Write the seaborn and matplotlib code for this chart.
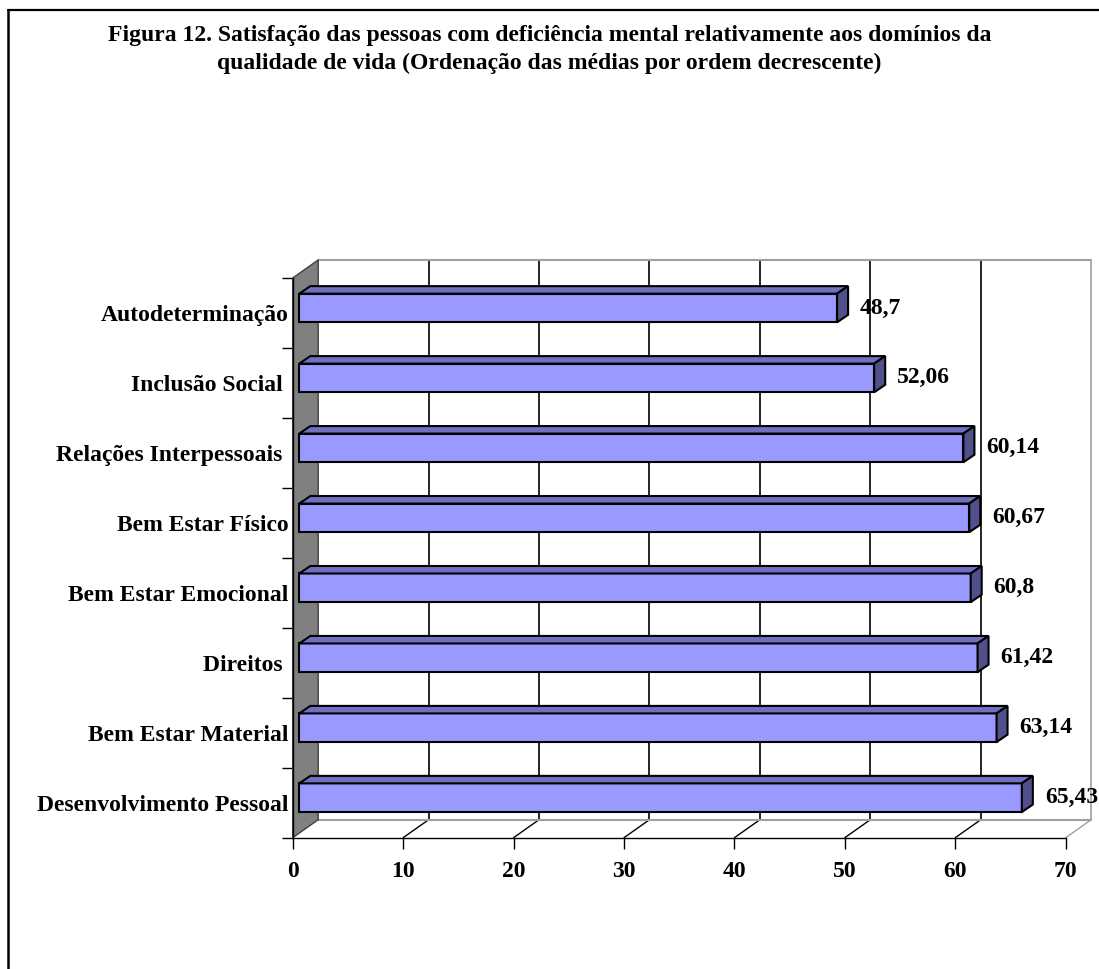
import matplotlib
matplotlib.use("Agg")
import matplotlib.pyplot as plt
import numpy as np
import pandas as pd
import seaborn as sns
from matplotlib.lines import Line2D
from matplotlib.patches import Polygon

# --- data (top to bottom, as in the chart) ---
domains = [
    "Autodeterminação",
    "Inclusão Social ",
    "Relações Interpessoais ",
    "Bem Estar Físico",
    "Bem Estar Emocional",
    "Direitos ",
    "Bem Estar Material",
    "Desenvolvimento Pessoal",
]
means = [48.7, 52.06, 60.14, 60.67, 60.8, 61.42, 63.14, 65.43]
x_ticks = [0, 10, 20, 30, 40, 50, 60, 70]

title_lines = [
    "Figura 12. Satisfação das pessoas com deficiência mental relativamente aos domínios da",
    "qualidade de vida (Ordenação das médias por ordem decrescente)",
]

df = pd.DataFrame({"domain": domains, "mean": means})

sns.set_style("white")
plt.rcParams["font.family"] = ["Liberation Serif", "DejaVu Serif"]
plt.rcParams["font.weight"] = "bold"
plt.rcParams["text.color"] = "black"
plt.rcParams["xtick.color"] = "black"
plt.rcParams["ytick.color"] = "black"
plt.rcParams["axes.labelcolor"] = "black"

W, H = 1099, 969
fig = plt.figure(figsize=(W / 100, H / 100), dpi=100)

# front plane of the 3D box, in pixels
left_px, right_px, top_px, bottom_px = 292.7, 1065.7, 278, 837.7
ax = fig.add_axes([left_px / W, (H - bottom_px) / H,
                   (right_px - left_px) / W, (bottom_px - top_px) / H])

fs = 17
bar_face = "#9999FF"
bar_top = "#7070C0"
bar_side = "#50508A"

sns.barplot(data=df, x="mean", y="domain", orient="h", color=bar_face,
            edgecolor="black", linewidth=1.5, width=0.41, saturation=1,
            ax=ax, zorder=3)

ax.set_xlim(x_ticks[0], x_ticks[-1])
ax.set_ylim(len(domains) - 0.5, -0.5)

# pixel -> data unit helpers
ux = (x_ticks[-1] - x_ticks[0]) / (right_px - left_px)
uy = len(domains) / (bottom_px - top_px)


def px(dx, dy):
    # dy is "up" in pixels; y axis is inverted so up is negative
    return dx * ux, -dy * uy


wdx, wdy = px(25.5, 18)   # depth of the walls
fdx, fdy = px(6.6, 5.0)   # bar front face offset
bdx, bdy = px(11, 7.5)    # bar depth

y_top, y_bot = -0.5, len(domains) - 0.5
x0, x1 = x_ticks[0], x_ticks[-1]
grey = "#A0A0A0"

# back wall
ax.add_patch(Polygon([(x0 + wdx, y_top + wdy), (x1 + wdx, y_top + wdy),
                      (x1 + wdx, y_bot + wdy), (x0 + wdx, y_bot + wdy)],
                     closed=True, facecolor="white", edgecolor="none",
                     clip_on=False, zorder=0.5))
# side wall
ax.add_patch(Polygon([(x0, y_top), (x0 + wdx, y_top + wdy),
                      (x0 + wdx, y_bot + wdy), (x0, y_bot)],
                     closed=True, facecolor="#808080", edgecolor="#404040",
                     linewidth=1, clip_on=False, zorder=0.7))

# gridlines on the back wall and floor
for t in x_ticks[1:]:
    c = grey if t == x_ticks[-1] else "black"
    ax.add_line(Line2D([t + wdx, t + wdx], [y_top + wdy, y_bot + wdy],
                       color=c, lw=1.2, clip_on=False, zorder=0.6))
    ax.add_line(Line2D([t, t + wdx], [y_bot, y_bot + wdy],
                       color=c, lw=1, clip_on=False, zorder=0.6))
ax.add_line(Line2D([x0 + wdx, x1 + wdx], [y_top + wdy, y_top + wdy],
                   color=grey, lw=1.5, clip_on=False, zorder=0.6))
ax.add_line(Line2D([x0 + wdx, x1 + wdx], [y_bot + wdy, y_bot + wdy],
                   color=grey, lw=1.5, clip_on=False, zorder=0.6))

# 3D bars: shift front faces, add top and side faces
for p, v in zip(ax.patches[:len(means)], means):
    p.set_x(p.get_x() + fdx)
    p.set_y(p.get_y() + fdy)
    bx, by, bw, bh = p.get_x(), p.get_y(), p.get_width(), p.get_height()
    ax.add_patch(Polygon([(bx, by), (bx + bw, by), (bx + bw + bdx, by + bdy),
                          (bx + bdx, by + bdy)], closed=True,
                         facecolor=bar_top, edgecolor="black", lw=1.5,
                         clip_on=False, zorder=3))
    ax.add_patch(Polygon([(bx + bw, by), (bx + bw, by + bh),
                          (bx + bw + bdx, by + bh + bdy),
                          (bx + bw + bdx, by + bdy)], closed=True,
                         facecolor=bar_side, edgecolor="black", lw=1.5,
                         clip_on=False, zorder=3))
    ax.annotate(f"{v}".replace(".", ","), xy=(bx + bw, by + bh / 2),
                xytext=(16.5, 0), textcoords="offset points",
                ha="left", va="center", fontsize=fs, fontweight="bold",
                color="black", annotation_clip=False)

# axes formatting
for s in ["top", "right"]:
    ax.spines[s].set_visible(False)
for s in ["left", "bottom"]:
    ax.spines[s].set_color("black")
    ax.spines[s].set_linewidth(1)
ax.patch.set_visible(False)
ax.set_xlabel("")
ax.set_ylabel("")
ax.set_xticks(x_ticks)
ax.set_xticklabels([str(t) for t in x_ticks], fontsize=fs, fontweight="bold")
ax.set_yticks(range(len(domains)))
ax.set_yticklabels(domains, fontsize=fs, fontweight="bold")
ax.set_yticks(np.arange(-0.5, len(domains), 1), minor=True)
ax.tick_params(axis="x", direction="out", length=8, width=1, pad=9,
               colors="black", bottom=True)
ax.tick_params(axis="y", which="major", length=0, pad=3, left=True,
               labelcolor="black")
ax.tick_params(axis="y", which="minor", direction="out", length=8,
               width=1, left=True, color="black")

# title
fig.text(0.5, 1 - 41 / H, title_lines[0], ha="center", va="baseline",
         fontsize=fs, fontweight="bold", color="black")
fig.text(0.5, 1 - 69 / H, title_lines[1], ha="center", va="baseline",
         fontsize=fs, fontweight="bold", color="black")

# page frame (left and top edges only are inside the picture)
fig.add_artist(Line2D([7.5 / W, 7.5 / W], [0, 1 - 10 / H],
                      transform=fig.transFigure, color="black", lw=1.8))
fig.add_artist(Line2D([7.5 / W, 1], [1 - 10 / H, 1 - 10 / H],
                      transform=fig.transFigure, color="black", lw=1.6))

fig.savefig("out.png", dpi=100, facecolor="white")
